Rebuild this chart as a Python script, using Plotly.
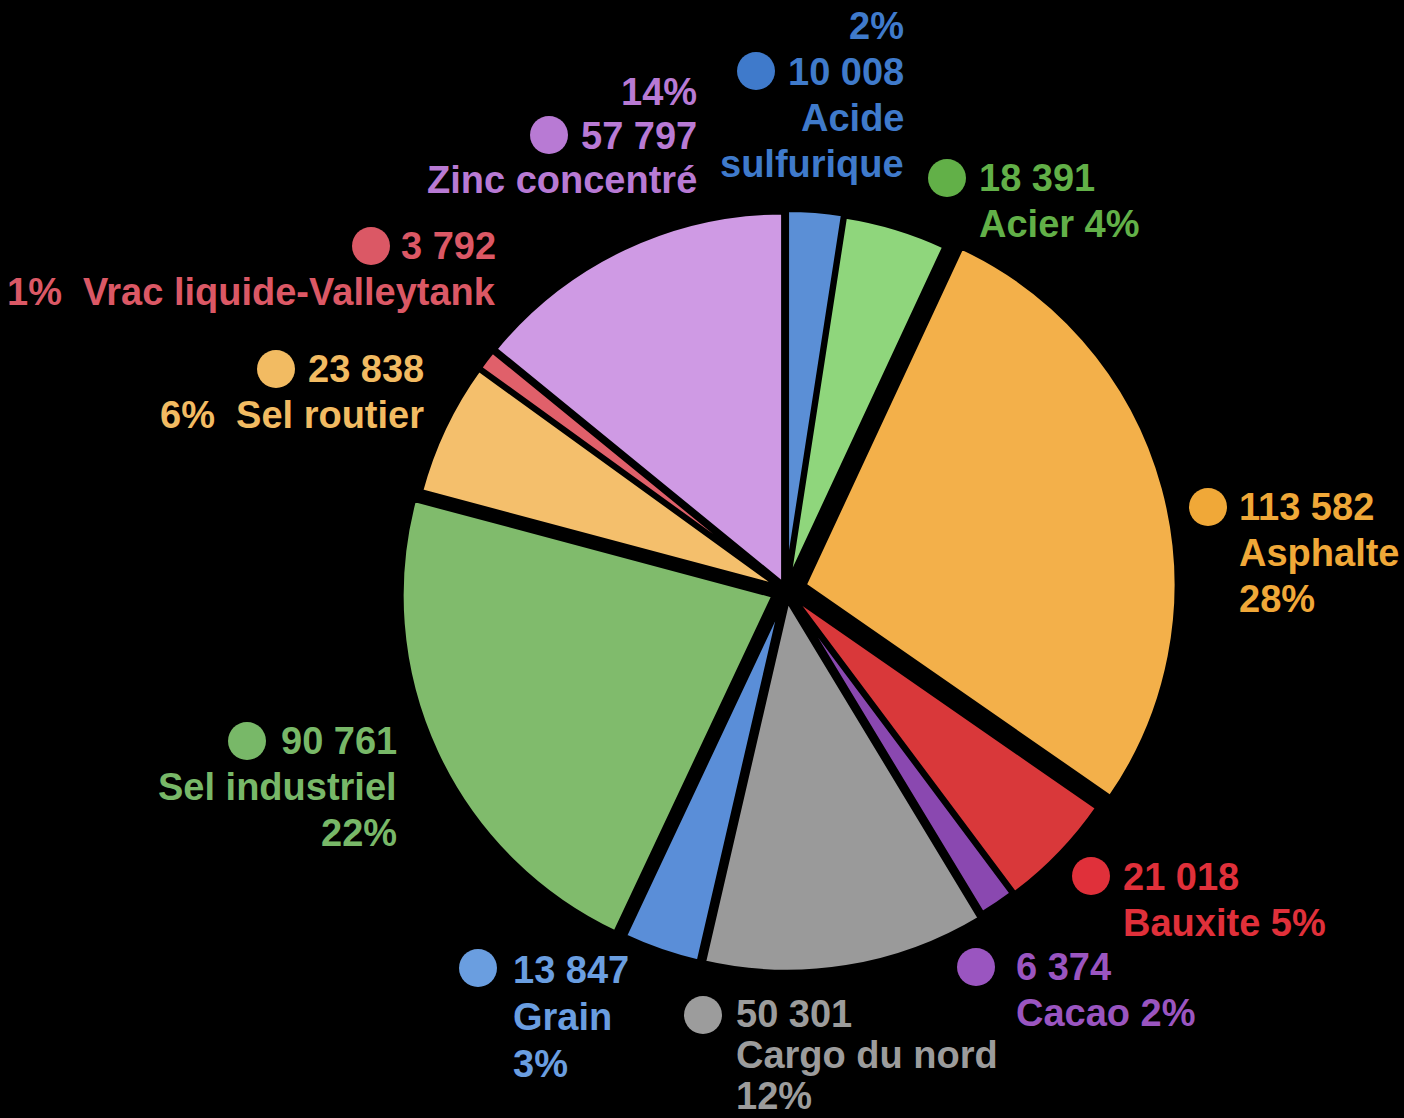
import plotly.graph_objects as go

# ---- data ----
categories = ["Acide sulfurique", "Acier", "Asphalte", "Bauxite", "Cacao",
              "Cargo du nord", "Grain", "Sel industriel", "Sel routier",
              "Vrac liquide-Valleytank", "Zinc concentré"]
values = [10008, 18391, 113582, 21018, 6374, 50301, 13847, 90761, 23838, 3792, 57797]

slice_colors = ["#5b8fd6", "#8fd67c", "#f3b04a", "#d9383a", "#8a48b0", "#9a9a9a",
                "#5a8ed8", "#80bb6c", "#f4bf6c", "#e0606a", "#cf9ae4"]
text_colors = ["#3f7acb", "#62b048", "#f0a838", "#e0303a", "#9a55c0", "#9c9c9c",
               "#6a9ee0", "#78b868", "#f2bb62", "#db5865", "#b87ad4"]
pulls = [0.02, 0.015, 0.05, 0.02, 0.015, 0.025, 0.025, 0.035, 0.015, 0.015, 0.015]

# label layout: line templates, anchor pixel (x, first-line y), alignment, dot pixel centre
label_templates = [
    ["{pct}", "{val}", "Acide", "sulfurique"],
    ["{val}", "{name} {pct}"],
    ["{val}", "{name}", "{pct}"],
    ["{val}", "{name} {pct}"],
    ["{val}", "{name} {pct}"],
    ["{val}", "{name}", "{pct}"],
    ["{val}", "{name}", "{pct}"],
    ["{val}", "{name}", "{pct}"],
    ["{val}", "{pct}  {name}"],
    ["{val}", "{pct}  {name}"],
    ["{pct}", "{val}", "{name}"],
]
label_pos = [(906, 26), (977, 178), (1237, 507), (1121, 877), (1014, 967),
             (734, 1014), (511, 970), (399, 741), (426, 369), (498, 246), (699, 92)]
label_gap = [46, 46, 46, 46, 46, 41, 47, 46, 46, 46, 44]
label_side = ["right", "left", "left", "left", "left", "left", "left",
              "right", "right", "right", "right"]
dot_pos = [(756, 71), (947, 178), (1208, 507), (1091, 876), (976, 967),
           (703, 1015), (478, 968), (247, 741), (276, 369), (371, 246), (549, 135)]

W, H = 1404, 1118
total = sum(values)

fig = go.Figure()

cx, cy, r = 786, 590, 373
maxp = max(pulls)
half = r * (1 + maxp)
fig.add_trace(go.Pie(
    labels=categories, values=values, sort=False, direction="clockwise",
    rotation=0, pull=pulls, textinfo="none", hoverinfo="label+value+percent",
    marker=dict(colors=slice_colors, line=dict(color="black", width=5)),
    domain=dict(x=[(cx - half) / W, (cx + half) / W],
                y=[(H - cy - half) / H, (H - cy + half) / H]),
    showlegend=False,
))

annotations = []
shapes = []
for i, name in enumerate(categories):
    pct = f"{round(values[i] / total * 100)}%"
    val = f"{values[i]:,}".replace(",", " ")
    px, py = label_pos[i]
    for j, tpl in enumerate(label_templates[i]):
        txt = tpl.format(pct=pct, val=val, name=name)
        annotations.append(dict(
            x=px / W, y=1 - (py + j * label_gap[i]) / H, xref="paper", yref="paper",
            text=txt, showarrow=False,
            xanchor=label_side[i], yanchor="middle", align=label_side[i],
            font=dict(family="Liberation Sans, Arial, sans-serif", size=38,
                      color=text_colors[i], weight="bold"),
        ))
    dx, dy = dot_pos[i]
    rr = 19
    shapes.append(dict(
        type="circle", xref="paper", yref="paper",
        x0=(dx - rr) / W, x1=(dx + rr) / W, y0=1 - (dy + rr) / H, y1=1 - (dy - rr) / H,
        fillcolor=text_colors[i], line=dict(width=0),
    ))

fig.update_layout(
    width=W, height=H,
    paper_bgcolor="black", plot_bgcolor="black",
    margin=dict(l=0, r=0, t=0, b=0),
    annotations=annotations, shapes=shapes,
)

fig.write_html("out.html", config={"displayModeBar": False},
               post_script="document.body.style.margin='0';document.body.style.background='black';")
